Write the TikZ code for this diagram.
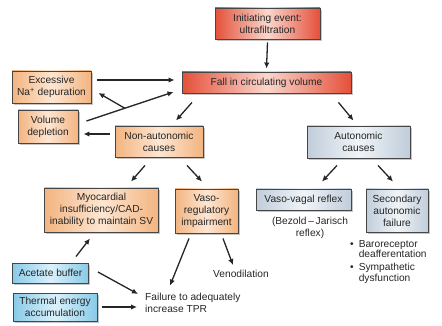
\documentclass[tikz,border=0pt]{standalone}
\usepackage{fontspec}
\setmainfont{Liberation Sans}
\usepackage{tikz}
\usetikzlibrary{arrows.meta, positioning, calc, shadows}
\definecolor{evred}{RGB}{228, 80, 58}
\definecolor{evredlight}{RGB}{250, 214, 204}
\definecolor{causeorange}{RGB}{243, 180, 128}
\definecolor{causeorangelight}{RGB}{253, 230, 210}
\definecolor{agentblue}{RGB}{136, 202, 232}
\definecolor{agentbluelight}{RGB}{218, 241, 251}
\definecolor{autgrey}{RGB}{192, 205, 218}
\definecolor{autgreylight}{RGB}{240, 244, 248}
\definecolor{rimgrey}{RGB}{70, 70, 70}

\tikzset{
  box/.style={draw=rimgrey, line width=0.9pt, align=center, inner sep=1pt,
    text=black!85, font=\fontsize{10.2}{12}\selectfont,
    drop shadow={shadow xshift=1.6pt, shadow yshift=-1.6pt, opacity=0.45}},
  redbox/.style={box, left color=evred, right color=evred, middle color=evredlight},
  orangebox/.style={box, left color=causeorange, right color=causeorange, middle color=causeorangelight},
  bluebox/.style={box, left color=agentblue, right color=agentblue, middle color=agentbluelight},
  greybox/.style={box, left color=autgrey, right color=autgrey, middle color=autgreylight},
  plain/.style={inner sep=0pt, text=black!85, font=\fontsize{10.2}{12}\selectfont},
  arr/.style={line width=1.3pt, black!85, -{Latex[length=6pt,width=5.5pt]}}
}

\begin{document}
\begin{tikzpicture}[x=1pt, y=-1pt]
        \useasboundingbox (0,0) rectangle (442,326);

        % event and volume
        \node[redbox, minimum width=105pt, minimum height=31pt] (init) at (267.5,23.5) {Initiating event:\\ultrafiltration};
        \node[redbox, minimum width=169pt, minimum height=21pt] (fall) at (266.5,82.5) {Fall in circulating volume};

        \node[orangebox, minimum width=79pt, minimum height=32pt] (exc) at (51.5,87) {Excessive\\Na\textsuperscript{+} depuration};
        \node[orangebox, minimum width=60pt, minimum height=33pt] (vold) at (48,126.5) {Volume\\depletion};

        % causes
        \node[orangebox, minimum width=88pt, minimum height=31pt] (nonaut) at (159,141.5) {Non-autonomic\\causes};
        \node[greybox, minimum width=103pt, minimum height=32pt] (aut) at (358.5,142) {Autonomic\\causes};

        \node[orangebox, minimum width=114pt, minimum height=44pt] (myo) at (101.5,210) {Myocardial\\insufficiency/CAD-\\inability to maintain SV};
        \node[orangebox, minimum width=63pt, minimum height=44pt] (vasoreg) at (206.5,211) {Vaso-\\regulatory\\impairment};
        \node[greybox, minimum width=95pt, minimum height=21pt] (vagal) at (303.5,199.5) {Vaso-vagal reflex};
        \node[greybox, minimum width=62pt, minimum height=43pt] (secaut) at (397,210.5) {Secondary\\autonomic\\failure};

        \node[bluebox, minimum width=76pt, minimum height=20pt] (acet) at (50.5,273) {Acetate buffer};
        \node[bluebox, minimum width=84pt, minimum height=28pt] (therm) at (55,307) {Thermal energy\\accumulation};

        % loose texts
        \node[plain, anchor=west, align=left] (fail) at (145,302.5) {Failure to adequately\\increase TPR};
        \node[plain] (veno) at (241,274) {Venodilation};
        \node[plain, align=center] (bezold) at (310,228) {(Bezold\,--\,Jarisch\\reflex)};
        \node[plain, anchor=north west] (bullets) at (350,238.5) {%
          \begin{tabular}{@{}l@{\hspace{5pt}}l@{}}
            \textbullet & Baroreceptor\\[-1.5pt]
                        & deafferentation\\[1pt]
            \textbullet & Sympathetic\\[-1.5pt]
                        & dysfunction
          \end{tabular}};

        % arrows
        \draw[arr] ([yshift=-3pt]init.south) -- ([yshift=3pt]fall.north);
        \draw[arr, shorten <=6pt, shorten >=7pt] ([yshift=7pt]exc.east) -- ([yshift=7pt]exc.east -| fall.west);
        \draw[arr] ([xshift=8pt,yshift=5.5pt]vold.east) -- coordinate[pos=0.44] (br) ([xshift=-8pt,yshift=-9.5pt]fall.west);
        \draw[arr] (br) -- ([xshift=7pt,yshift=-6pt]exc.east);
        \draw[arr] ([xshift=-5pt,yshift=7.5pt]nonaut.west) -- ([xshift=5pt,yshift=-7.5pt]vold.east);

        \draw[arr] ([xshift=-74.5pt,yshift=-9pt]fall.south) -- ([xshift=17pt,yshift=5pt]nonaut.north);
        \draw[arr] ([xshift=72pt,yshift=-9pt]fall.south) -- ([xshift=-5pt,yshift=5pt]aut.north);

        \draw[arr] ([xshift=-14pt,yshift=-8pt]nonaut.south) -- ([xshift=29.5pt,yshift=6pt]myo.north);
        \draw[arr] ([xshift=28pt,yshift=-8pt]nonaut.south) -- ([xshift=-4.5pt,yshift=7pt]vasoreg.north);
        \draw[arr] ([xshift=-21.5pt,yshift=-7pt]aut.south) -- ([xshift=18.5pt,yshift=7pt]vagal.north);
        \draw[arr] ([xshift=19.5pt,yshift=-7pt]aut.south) -- ([xshift=-4pt,yshift=7pt]secaut.north);

        \draw[arr] ([xshift=25.5pt,yshift=6pt]acet.north) -- ([xshift=-11.5pt,yshift=-6pt]myo.south);
        \draw[arr] ([xshift=9pt,yshift=1pt]acet.east) -- ([xshift=-7pt,yshift=8.5pt]fail.west);
        \draw[arr] ([xshift=5pt,yshift=0pt]therm.east) -- ([xshift=-8pt,yshift=-4.5pt]fail.west);
        \draw[arr] ([xshift=-17.5pt,yshift=-5pt]vasoreg.south) -- ([xshift=25pt,yshift=7pt]fail.north west);
        \draw[arr] ([xshift=16.5pt,yshift=-5pt]vasoreg.south) -- ([xshift=-8pt,yshift=5pt]veno.north);
    \end{tikzpicture}
\end{document}
